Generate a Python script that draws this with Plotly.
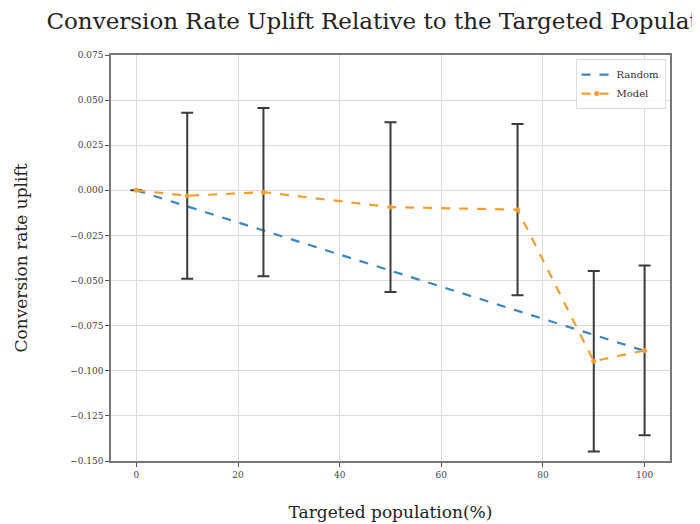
import plotly.graph_objects as go

x_pct = [0, 10, 25, 50, 75, 90, 100]
random_uplift = [0.0, -0.0089, -0.02225, -0.0445, -0.06675, -0.0801, -0.089]
model_uplift = [0.0, -0.003, -0.001, -0.0093, -0.0107, -0.0947, -0.0887]
model_err = [0.0, 0.046, 0.0466, 0.0471, 0.0474, 0.050, 0.047]

y_ticks = [0.075, 0.05, 0.025, 0.0, -0.025, -0.05, -0.075, -0.1, -0.125, -0.15]
x_ticks = [0, 20, 40, 60, 80, 100]

serif = "DejaVu Serif"

fig = go.Figure()
fig.add_trace(go.Scatter(
    x=x_pct, y=random_uplift, mode="lines", name="Random",
    line=dict(color="#3a86bd", width=2.2, dash="dash"),
))
# error bars beneath the model line
fig.add_trace(go.Scatter(
    x=x_pct, y=model_uplift, mode="markers", showlegend=False, hoverinfo="skip",
    marker=dict(size=1, color="rgba(0,0,0,0)"),
    error_y=dict(type="data", array=model_err, visible=True,
                 color="#3a3a3a", thickness=2, width=6),
))
fig.add_trace(go.Scatter(
    x=x_pct, y=model_uplift, mode="lines+markers", name="Model",
    line=dict(color="#f0a030", width=2.2, dash="dash"),
    marker=dict(size=5, color="#f0a030"),
))

W, H = 692, 516
fig.update_layout(
    width=W, height=H,
    margin=dict(l=103, r=30, t=47, b=63),
    paper_bgcolor="white", plot_bgcolor="white",
    font=dict(family=serif, color="#333333"),
    title=dict(text="Conversion Rate Uplift Relative to the Targeted Population",
               x=0.5, xref="paper", xanchor="center", y=1 - 13 / H, yanchor="middle",
               font=dict(size=23, family=serif, color="#222222")),
    legend=dict(x=0.992, y=0.99, xanchor="right", yanchor="top",
                bgcolor="rgba(255,255,255,0.8)", bordercolor="#dddddd", borderwidth=1,
                font=dict(size=10, family=serif, color="#333333"),
                itemwidth=30, tracegroupgap=0),
    showlegend=True,
)
fig.update_xaxes(
    range=[-5, 105], tickvals=x_ticks, ticks="outside", ticklen=4, tickcolor="#555555",
    tickfont=dict(size=9, family=serif, color="#444444"),
    showgrid=True, gridcolor="#dcdcdc", gridwidth=1, zeroline=False,
    showline=True, linecolor="#777777", linewidth=1.5, mirror=True, automargin=False,
    title=dict(text="Targeted population(%)", font=dict(size=17, family=serif, color="#222222"),
               standoff=28),
)
fig.update_yaxes(
    range=[-0.15, 0.075], tickvals=y_ticks, tickformat=".3f", ticks="outside", ticklen=4,
    tickcolor="#555555",
    tickfont=dict(size=9, family=serif, color="#444444"),
    showgrid=True, gridcolor="#dcdcdc", gridwidth=1, zeroline=False,
    showline=True, linecolor="#777777", linewidth=1.5, mirror=True, automargin=False,
    title=dict(text="Conversion rate uplift", font=dict(size=17, family=serif, color="#222222"),
               standoff=38),
)

fig.write_html("out.html")
